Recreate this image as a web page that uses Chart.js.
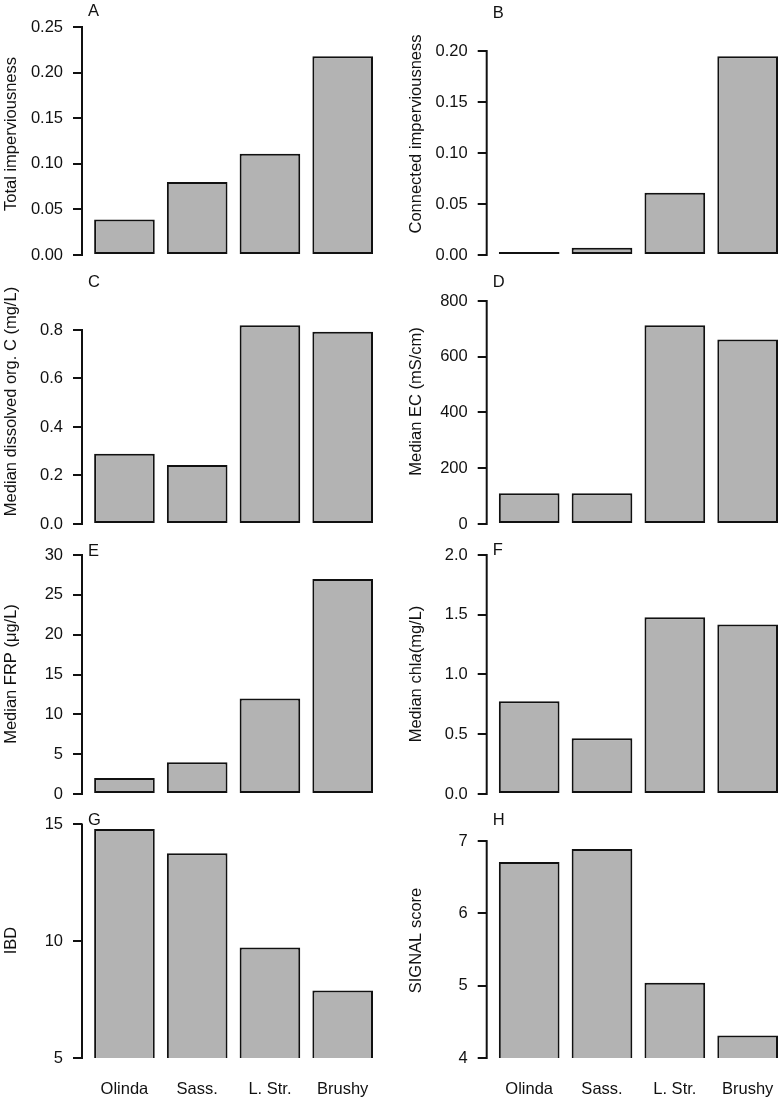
<!DOCTYPE html>
<html>
<head>
<meta charset="utf-8">
<script src="https://cdn.jsdelivr.net/npm/chart.js@4.4.0/dist/chart.umd.min.js"></script>
<style>
html,body{margin:0;padding:0;background:#fff;}
#wrap{position:relative;width:783px;height:1104px;overflow:hidden;}
#wrap canvas{position:absolute;}
</style>
</head>
<body>
<div id="wrap"></div>
<script>
// ---- data ----
const categories = ['Olinda', 'Sass.', 'L. Str.', 'Brushy'];

const totalImperv     = [0.039, 0.080, 0.111, 0.218];
const connectedImperv = [0.003, 0.007, 0.061, 0.195];
const medianDOC       = [0.290, 0.243, 0.820, 0.793];
const medianEC        = [110, 110, 713, 662];
const medianFRP       = [2.0, 4.0, 12.0, 27.0];
const medianChla      = [0.775, 0.467, 1.479, 1.418];
const ibd             = [14.80, 13.77, 9.73, 7.89];
const signalScore     = [6.71, 6.89, 5.04, 4.31];

const ticksA = ['0.00', '0.05', '0.10', '0.15', '0.20', '0.25'];
const ticksB = ['0.00', '0.05', '0.10', '0.15', '0.20'];
const ticksC = ['0.0', '0.2', '0.4', '0.6', '0.8'];
const ticksD = ['0', '200', '400', '600', '800'];
const ticksE = ['0', '5', '10', '15', '20', '25', '30'];
const ticksF = ['0.0', '0.5', '1.0', '1.5', '2.0'];
const ticksG = ['5', '10', '15'];
const ticksH = ['4', '5', '6', '7'];

// ---- layout / style ----
const FONT = 'Liberation Sans, Arial, Helvetica, sans-serif';
const FS = 16.5;
const INK = '#111111';
const cols = [
  {left: 0,   width: 391, axisW: 82,   padR: 18, titlePad: 1.6},
  {left: 391, width: 392, axisW: 95.7, padR: 5,  titlePad: 15.6}
];
const rows = [
  {top: 0,   h: 268, padT: 13, padB: 13},
  {top: 268, h: 270, padT: 11, padB: 14},
  {top: 538, h: 270, padT: 16, padB: 14},
  {top: 808, h: 296, padT: 15, padB: 0, xH: 46}
];

const panels = [
  {id: 'A', title: ['Total imperviousness'],               values: totalImperv,     ticks: ticksA, col: 0, row: 0, min: 0, max: 0.2654, letterY: 11.5},
  {id: 'B', title: ['Connected imperviousness'],           values: connectedImperv, ticks: ticksB, col: 1, row: 0, min: 0, max: 0.2373, letterY: 13},
  {id: 'C', title: ['Median dissolved org. C (mg/L)'],     values: medianDOC,       ticks: ticksC, col: 0, row: 1, min: 0, max: 1.0103, letterY: 282},
  {id: 'D', title: ['Median EC (mS/cm)'],                  values: medianEC,        ticks: ticksD, col: 1, row: 1, min: 0, max: 878.9,  letterY: 282},
  {id: 'E', title: ['Median FRP (\u03bcg/L)'],             values: medianFRP,       ticks: ticksE, col: 0, row: 2, min: 0, max: 30.13,  letterY: 551.5},
  {id: 'F', title: ['Median chl', 'a', '(mg/L)'],          values: medianChla,      ticks: ticksF, col: 1, row: 2, min: 0, max: 2.008,  letterY: 550},
  {id: 'G', title: ['IBD'],                                values: ibd,             ticks: ticksG, col: 0, row: 3, min: 5, max: 15.06,  letterY: 820},
  {id: 'H', title: ['SIGNAL score'],                       values: signalScore,     ticks: ticksH, col: 1, row: 3, min: 4, max: 7.25,   letterY: 820.5}
];

// R-style axis line (first to last tick), panel letter, and y-axis title with italic parts
const rAxisPlugin = {
  id: 'rAxis',
  afterDraw(chart, args, opts) {
    const y = chart.scales.y;
    const ctx = chart.ctx;
    const area = chart.chartArea;
    const x = area.left;
    const t = y.ticks;
    ctx.save();
    ctx.strokeStyle = INK;
    ctx.lineWidth = 2;
    ctx.beginPath();
    ctx.moveTo(x, y.getPixelForValue(t[0].value) + 1);
    ctx.lineTo(x, y.getPixelForValue(t[t.length - 1].value) - 1);
    ctx.stroke();

    ctx.fillStyle = INK;
    ctx.font = FS + 'px ' + FONT;
    ctx.textAlign = 'left';
    ctx.textBaseline = 'middle';
    ctx.fillText(opts.letter, x + 6, opts.letterY);

    // y title (odd parts upright, even parts italic)
    const parts = opts.title;
    const fonts = parts.map((s, i) => (i % 2 === 1 ? 'italic ' : '') + FS + 'px ' + FONT);
    let total = 0;
    const widths = parts.map((s, i) => { ctx.font = fonts[i]; const w = ctx.measureText(s).width; total += w; return w; });
    const tx = y.left + opts.titlePad + FS * 1.2 / 2;
    const ty = (area.top + area.bottom) / 2;
    ctx.translate(tx, ty);
    ctx.rotate(-Math.PI / 2);
    let pos = -total / 2;
    parts.forEach((s, i) => { ctx.font = fonts[i]; ctx.fillText(s, pos, 0); pos += widths[i]; });
    ctx.restore();
  }
};

const wrap = document.getElementById('wrap');

panels.forEach(p => {
  const col = cols[p.col];
  const row = rows[p.row];
  const isBottom = p.row === 3;
  const cv = document.createElement('canvas');
  cv.width = col.width;
  cv.height = row.h;
  cv.style.left = col.left + 'px';
  cv.style.top = row.top + 'px';
  cv.style.width = col.width + 'px';
  cv.style.height = row.h + 'px';
  wrap.appendChild(cv);

  new Chart(cv, {
    type: 'bar',
    data: {
      datasets: [{
        data: p.values.map((v, i) => ({x: i, y: v})),
        backgroundColor: '#b3b3b3',
        borderColor: INK,
        borderWidth: 2,
        borderSkipped: false,
        barPercentage: 1 / 1.2,
        categoryPercentage: 1
      }]
    },
    options: {
      responsive: false,
      animation: false,
      devicePixelRatio: 1,
      layout: {padding: {left: 0, right: col.padR, top: row.padT, bottom: row.padB}},
      plugins: {
        legend: {display: false},
        tooltip: {enabled: false},
        rAxis: {letter: p.id, letterY: p.letterY - row.top, title: p.title, titlePad: col.titlePad}
      },
      scales: {
        x: {
          type: 'linear',
          min: -7 / 12,
          max: 41 / 12,
          offset: false,
          display: isBottom,
          grid: {display: false, drawTicks: false, offset: false},
          border: {display: false},
          afterBuildTicks: s => { s.ticks = categories.map((c, i) => ({value: i})); },
          afterFit: s => {
            if (isBottom) s.height = row.xH;
            s.paddingLeft = 0; s.paddingRight = 0;
          },
          ticks: {
            autoSkip: false,
            maxRotation: 0,
            padding: 22,
            color: INK,
            font: {family: FONT, size: FS},
            callback: (v, i) => categories[i]
          }
        },
        y: {
          min: p.min,
          max: p.max,
          afterBuildTicks: s => { s.ticks = p.ticks.map(t => ({value: parseFloat(t)})); },
          afterFit: s => { s.width = col.axisW; s.paddingTop = 0; s.paddingBottom = 0; },
          grid: {drawOnChartArea: false, drawTicks: true, tickLength: 9, color: INK, lineWidth: 2},
          border: {display: false},
          ticks: {
            autoSkip: false,
            padding: 10,
            color: INK,
            font: {family: FONT, size: FS},
            callback: (v, i) => p.ticks[i]
          },
          title: {display: false}
        }
      }
    },
    plugins: [rAxisPlugin]
  });
});
</script>
</body>
</html>
